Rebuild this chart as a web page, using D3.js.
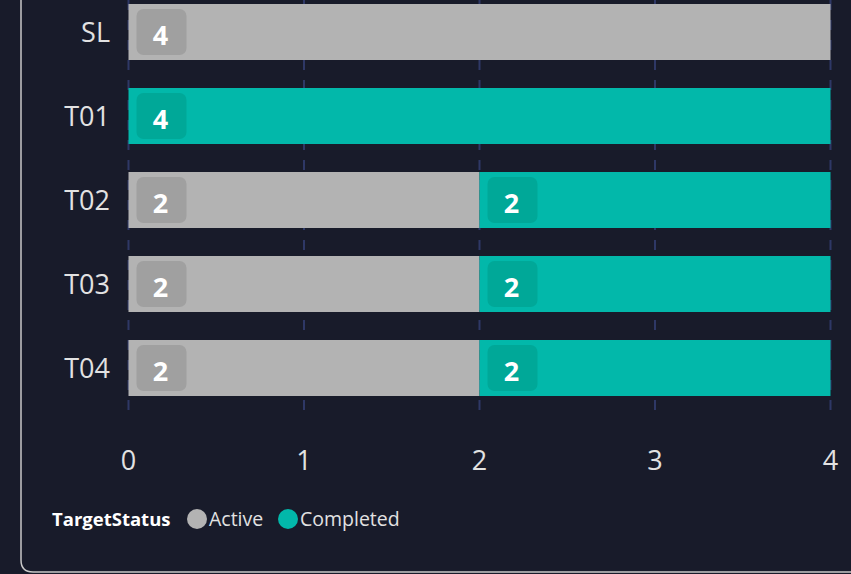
<!DOCTYPE html>
<html>
<head>
<meta charset="utf-8">
<script src="https://cdn.jsdelivr.net/npm/d3@7"></script>
<style>
  body { margin: 0; background: #181b2a; overflow: hidden; }
  svg { display: block; font-family: "Open Sans", "Noto Sans", sans-serif; }
</style>
</head>
<body>
<div id="chart"></div>
<script>
/**
 * DATA
 * */
const categories = ["SL", "T01", "T02", "T03", "T04"];
const statuses = ["Active", "Completed"];
const activeValues = [4, 0, 2, 2, 2];
const completedValues = [0, 4, 2, 2, 2];
const xTicks = [0, 1, 2, 3, 4];

const colors = { Active: "#b3b3b3", Completed: "#02b8aa" };
const labelBg = { Active: "#a0a0a0", Completed: "#00a898" };

const width = 851, height = 574;

const svg = d3.select("#chart")
  .append("svg")
  .attr("width", width)
  .attr("height", height);

// card frame (left + bottom edges visible)
svg.append("path")
  .attr("d", `M21,-5 L21,560 Q21,572 33,572 L860,572`)
  .attr("fill", "none")
  .attr("stroke", "#c8c8c8")
  .attr("stroke-width", 1.5);

const x = d3.scaleLinear()
  .domain([0, 4])
  .range([128.5, 830.5]);

const y = d3.scaleBand()
  .domain(categories)
  .range([-24, 424])
  .paddingInner(1 / 3)
  .paddingOuter(1 / 3);

// dashed gridlines
svg.append("g")
  .selectAll("line")
  .data(xTicks)
  .join("line")
  .attr("x1", d => x(d))
  .attr("x2", d => x(d))
  .attr("y1", 0)
  .attr("y2", 410)
  .attr("stroke", "#2e3866")
  .attr("stroke-width", 2)
  .attr("stroke-dasharray", "10,10");

// stacked data
const rows = categories.map((c, i) => ({ cat: c, Active: activeValues[i], Completed: completedValues[i] }));
const stacked = d3.stack().keys(statuses)(rows);

const groups = svg.append("g")
  .selectAll("g")
  .data(stacked)
  .join("g")
  .attr("fill", d => colors[d.key]);

groups.selectAll("rect")
  .data(d => d.filter(p => p[1] > p[0]))
  .join("rect")
  .attr("x", d => x(d[0]))
  .attr("y", d => y(d.data.cat))
  .attr("width", d => x(d[1]) - x(d[0]))
  .attr("height", y.bandwidth());

// value labels
const labels = svg.append("g");
stacked.forEach(s => {
  s.filter(p => p[1] > p[0]).forEach(p => {
    const bx = x(p[0]) + 8, by = y(p.data.cat) + 5;
    labels.append("rect")
      .attr("x", bx)
      .attr("y", by)
      .attr("width", 50)
      .attr("height", y.bandwidth() - 10)
      .attr("rx", 7)
      .attr("fill", labelBg[s.key]);
    labels.append("text")
      .attr("x", bx + 24)
      .attr("y", by + (y.bandwidth() - 10) / 2)
      .attr("dy", "0.48em")
      .attr("text-anchor", "middle")
      .attr("fill", "#ffffff")
      .attr("font-size", 27)
      .attr("font-weight", "bold")
      .text(p[1] - p[0]);
  });
});

// y axis labels
svg.append("g")
  .selectAll("text")
  .data(categories)
  .join("text")
  .attr("x", 110)
  .attr("y", d => y(d) + y.bandwidth() / 2)
  .attr("dy", "0.36em")
  .attr("text-anchor", "end")
  .attr("fill", "#e2e2e2")
  .attr("font-size", 27)
  .text(d => d);

// x axis labels
svg.append("g")
  .selectAll("text")
  .data(xTicks)
  .join("text")
  .attr("x", d => x(d))
  .attr("y", 460)
  .attr("dy", "0.36em")
  .attr("text-anchor", "middle")
  .attr("fill", "#e2e2e2")
  .attr("font-size", 27)
  .text(d => d);

// legend
const legend = svg.append("g").attr("transform", "translate(52,519)");
legend.append("text")
  .attr("x", 0)
  .attr("dy", "0.36em")
  .attr("fill", "#ffffff")
  .attr("font-size", 18.5)
  .attr("font-weight", "bold")
  .text("TargetStatus");

const legendX = [145, 236];
statuses.forEach((s, i) => {
  legend.append("circle")
    .attr("cx", legendX[i])
    .attr("cy", 0)
    .attr("r", 10)
    .attr("fill", colors[s]);
  legend.append("text")
    .attr("x", legendX[i] + 12)
    .attr("dy", "0.36em")
    .attr("fill", "#e2e2e2")
    .attr("font-size", 19.5)
    .text(s);
});
</script>
</body>
</html>
